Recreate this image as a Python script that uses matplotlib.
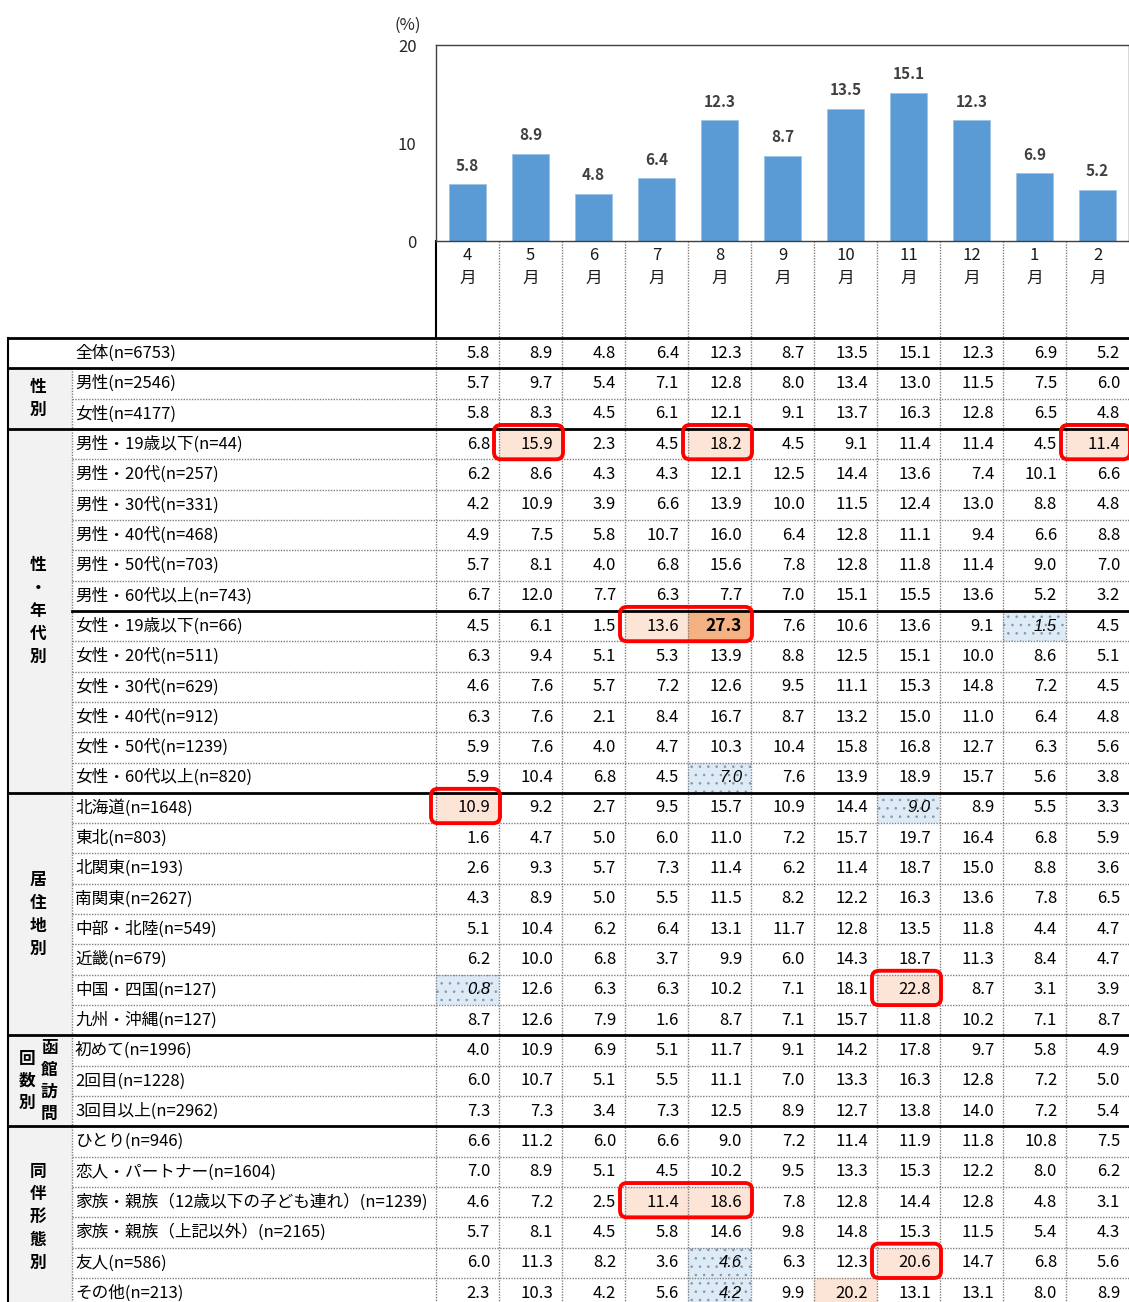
import matplotlib
matplotlib.use("Agg")
import matplotlib.pyplot as plt
from matplotlib.patches import Rectangle, FancyBboxPatch

plt.rcParams['font.family'] = ['Noto Sans CJK JP', 'DejaVu Sans']
plt.rcParams['hatch.linewidth'] = 0.6

# ---------------- data ----------------
months = ["4", "5", "6", "7", "8", "9", "10", "11", "12", "1", "2"]
overall = [5.8, 8.9, 4.8, 6.4, 12.3, 8.7, 13.5, 15.1, 12.3, 6.9, 5.2]

row_labels = [
    "全体(n=6753)",
    "男性(n=2546)", "女性(n=4177)",
    "男性・19歳以下(n=44)", "男性・20代(n=257)", "男性・30代(n=331)",
    "男性・40代(n=468)", "男性・50代(n=703)", "男性・60代以上(n=743)",
    "女性・19歳以下(n=66)", "女性・20代(n=511)", "女性・30代(n=629)",
    "女性・40代(n=912)", "女性・50代(n=1239)", "女性・60代以上(n=820)",
    "北海道(n=1648)", "東北(n=803)", "北関東(n=193)", "南関東(n=2627)",
    "中部・北陸(n=549)", "近畿(n=679)", "中国・四国(n=127)", "九州・沖縄(n=127)",
    "初めて(n=1996)", "2回目(n=1228)", "3回目以上(n=2962)",
    "ひとり(n=946)", "恋人・パートナー(n=1604)",
    "家族・親族（12歳以下の子ども連れ）(n=1239)", "家族・親族（上記以外）(n=2165)",
    "友人(n=586)", "その他(n=213)",
]

values = [
    [5.8, 8.9, 4.8, 6.4, 12.3, 8.7, 13.5, 15.1, 12.3, 6.9, 5.2],
    [5.7, 9.7, 5.4, 7.1, 12.8, 8.0, 13.4, 13.0, 11.5, 7.5, 6.0],
    [5.8, 8.3, 4.5, 6.1, 12.1, 9.1, 13.7, 16.3, 12.8, 6.5, 4.8],
    [6.8, 15.9, 2.3, 4.5, 18.2, 4.5, 9.1, 11.4, 11.4, 4.5, 11.4],
    [6.2, 8.6, 4.3, 4.3, 12.1, 12.5, 14.4, 13.6, 7.4, 10.1, 6.6],
    [4.2, 10.9, 3.9, 6.6, 13.9, 10.0, 11.5, 12.4, 13.0, 8.8, 4.8],
    [4.9, 7.5, 5.8, 10.7, 16.0, 6.4, 12.8, 11.1, 9.4, 6.6, 8.8],
    [5.7, 8.1, 4.0, 6.8, 15.6, 7.8, 12.8, 11.8, 11.4, 9.0, 7.0],
    [6.7, 12.0, 7.7, 6.3, 7.7, 7.0, 15.1, 15.5, 13.6, 5.2, 3.2],
    [4.5, 6.1, 1.5, 13.6, 27.3, 7.6, 10.6, 13.6, 9.1, 1.5, 4.5],
    [6.3, 9.4, 5.1, 5.3, 13.9, 8.8, 12.5, 15.1, 10.0, 8.6, 5.1],
    [4.6, 7.6, 5.7, 7.2, 12.6, 9.5, 11.1, 15.3, 14.8, 7.2, 4.5],
    [6.3, 7.6, 2.1, 8.4, 16.7, 8.7, 13.2, 15.0, 11.0, 6.4, 4.8],
    [5.9, 7.6, 4.0, 4.7, 10.3, 10.4, 15.8, 16.8, 12.7, 6.3, 5.6],
    [5.9, 10.4, 6.8, 4.5, 7.0, 7.6, 13.9, 18.9, 15.7, 5.6, 3.8],
    [10.9, 9.2, 2.7, 9.5, 15.7, 10.9, 14.4, 9.0, 8.9, 5.5, 3.3],
    [1.6, 4.7, 5.0, 6.0, 11.0, 7.2, 15.7, 19.7, 16.4, 6.8, 5.9],
    [2.6, 9.3, 5.7, 7.3, 11.4, 6.2, 11.4, 18.7, 15.0, 8.8, 3.6],
    [4.3, 8.9, 5.0, 5.5, 11.5, 8.2, 12.2, 16.3, 13.6, 7.8, 6.5],
    [5.1, 10.4, 6.2, 6.4, 13.1, 11.7, 12.8, 13.5, 11.8, 4.4, 4.7],
    [6.2, 10.0, 6.8, 3.7, 9.9, 6.0, 14.3, 18.7, 11.3, 8.4, 4.7],
    [0.8, 12.6, 6.3, 6.3, 10.2, 7.1, 18.1, 22.8, 8.7, 3.1, 3.9],
    [8.7, 12.6, 7.9, 1.6, 8.7, 7.1, 15.7, 11.8, 10.2, 7.1, 8.7],
    [4.0, 10.9, 6.9, 5.1, 11.7, 9.1, 14.2, 17.8, 9.7, 5.8, 4.9],
    [6.0, 10.7, 5.1, 5.5, 11.1, 7.0, 13.3, 16.3, 12.8, 7.2, 5.0],
    [7.3, 7.3, 3.4, 7.3, 12.5, 8.9, 12.7, 13.8, 14.0, 7.2, 5.4],
    [6.6, 11.2, 6.0, 6.6, 9.0, 7.2, 11.4, 11.9, 11.8, 10.8, 7.5],
    [7.0, 8.9, 5.1, 4.5, 10.2, 9.5, 13.3, 15.3, 12.2, 8.0, 6.2],
    [4.6, 7.2, 2.5, 11.4, 18.6, 7.8, 12.8, 14.4, 12.8, 4.8, 3.1],
    [5.7, 8.1, 4.5, 5.8, 14.6, 9.8, 14.8, 15.3, 11.5, 5.4, 4.3],
    [6.0, 11.3, 8.2, 3.6, 4.6, 6.3, 12.3, 20.6, 14.7, 6.8, 5.6],
    [2.3, 10.3, 4.2, 5.6, 4.2, 9.9, 20.2, 13.1, 13.1, 8.0, 8.9],
]

group_names = ["", "性別", "性・年代別", "居住地別", "函館訪問回数別", "同伴形態別"]
group_sizes = [1, 2, 12, 8, 3, 6]
sub_breaks = [9]

high_cells = [(3, 1), (3, 4), (3, 10), (9, 3), (15, 0), (21, 7), (28, 3), (28, 4), (30, 7), (31, 6)]
peak_cells = [(9, 4)]
low_cells = [(9, 9), (14, 4), (15, 7), (21, 0), (30, 4), (31, 4)]
boxed_spans = [(3, 1, 1), (3, 4, 4), (3, 10, 10), (9, 3, 4), (15, 0, 0), (21, 7, 7), (28, 3, 4), (30, 7, 7)]

# ---------------- layout ----------------
W, H = 1129, 1302
X_LEFT, X_GRP, X_TAB = 8, 72, 436
NCOL = len(months)
CW = (W - X_TAB) / NCOL
Y_HEAD, Y0 = 241, 338
RH = (1293 - 353) / 31
Y_TOPAX = 45

fig = plt.figure(figsize=(W / 100, H / 100), dpi=100)
tx = fig.add_axes([0, 0, 1, 1])
tx.set_xlim(0, W)
tx.set_ylim(H, 0)
tx.axis('off')

DOT = dict(color='#7f7f7f', lw=1.0, linestyle=(0, (1, 1)))
SOLID = dict(color='black', lw=2.0)

def col_x(j):
    return X_TAB + j * CW

def row_y(i):
    return Y0 + i * RH

nrows = len(row_labels)
tx.add_patch(Rectangle((X_LEFT, row_y(1)), X_GRP - X_LEFT, H - row_y(1),
                       facecolor='#f2f2f2', edgecolor='none', zorder=0))

for (i, j) in high_cells:
    tx.add_patch(Rectangle((col_x(j), row_y(i)), CW, RH, facecolor='#fce4d6',
                           edgecolor='none', zorder=1))
for (i, j) in peak_cells:
    tx.add_patch(Rectangle((col_x(j), row_y(i)), CW, RH, facecolor='#f4b183',
                           edgecolor='none', zorder=1))
for (i, j) in low_cells:
    tx.add_patch(Rectangle((col_x(j), row_y(i)), CW, RH, facecolor='#ddebf7',
                           edgecolor='#8a96a8', lw=0, hatch='..', zorder=1))

group_starts = []
acc = 0
for s in group_sizes:
    group_starts.append(acc)
    acc += s
for r in range(nrows + 1):
    y = row_y(r)
    if r in group_starts or r == nrows:
        tx.plot([X_LEFT, W], [y, y], zorder=3, **SOLID)
    elif r in sub_breaks:
        tx.plot([X_GRP, W], [y, y], zorder=3, **SOLID)
    else:
        tx.plot([X_GRP, W], [y, y], zorder=2, **DOT)

tx.plot([X_LEFT, X_LEFT], [Y0, H], color='black', lw=1.5, zorder=3)
tx.plot([X_GRP, X_GRP], [row_y(1), H], zorder=2, **DOT)
tx.plot([X_TAB, X_TAB], [Y_HEAD, Y0], color='black', lw=1.5, zorder=3)
tx.plot([X_TAB, X_TAB], [Y0, H], zorder=2, **DOT)
for j in range(1, NCOL):
    tx.plot([col_x(j), col_x(j)], [Y_HEAD, H], zorder=2, **DOT)

for j, m in enumerate(months):
    cx = col_x(j) + CW / 2
    tx.text(cx, 256, m, ha='center', va='center', fontsize=12, color='#1a1a1a')
    tx.text(cx, 278, "月", ha='center', va='center', fontsize=12, color='#1a1a1a')

for i, lab in enumerate(row_labels):
    yc = row_y(i) + RH / 2
    tx.text(75, yc, lab, ha='left', va='center', fontsize=12, color='black', zorder=4)
    for j, v in enumerate(values[i]):
        xr = col_x(j + 1) - 9
        if (i, j) in low_cells:
            tx.text(xr, yc, f"{v:.1f}", ha='right', va='center', fontsize=12,
                    family=['Liberation Sans', 'DejaVu Sans'], fontstyle='italic',
                    color='black', zorder=4)
        elif (i, j) in peak_cells:
            tx.text(xr, yc, f"{v:.1f}", ha='right', va='center', fontsize=12.5,
                    fontweight='bold', color='black', zorder=4)
        else:
            tx.text(xr, yc, f"{v:.1f}", ha='right', va='center', fontsize=12,
                    color='black', zorder=4)

for g, (name, s) in enumerate(zip(group_names, group_sizes)):
    if not name:
        continue
    yc = (row_y(group_starts[g]) + row_y(group_starts[g] + s)) / 2
    if name == "函館訪問回数別":
        tx.text(49, yc, "\n".join("函館訪問"), ha='center', va='center', fontsize=12,
                fontweight='bold', linespacing=1.3, zorder=4)
        tx.text(27, yc, "\n".join("回数別"), ha='center', va='center', fontsize=12,
                fontweight='bold', linespacing=1.3, zorder=4)
    else:
        tx.text(38, yc, "\n".join(name), ha='center', va='center', fontsize=12,
                fontweight='bold', linespacing=1.35, zorder=4)

for (i, j0, j1) in boxed_spans:
    x0 = col_x(j0) - 5
    x1 = col_x(j1 + 1) + 1
    y0 = row_y(i) - 4
    y1 = row_y(i + 1)
    tx.add_patch(FancyBboxPatch((x0, y0), x1 - x0, y1 - y0,
                                boxstyle="round,pad=0,rounding_size=7",
                                facecolor='none', edgecolor='#ff0000', lw=2.8, zorder=5))

# ---------------- bar chart ----------------
ax = fig.add_axes([X_TAB / W, 1 - Y_HEAD / H, (W - X_TAB) / W, (Y_HEAD - Y_TOPAX) / H])
x = list(range(NCOL))
ax.bar(x, overall, width=0.58, color='#5b9bd5', edgecolor='#9dc3e6', linewidth=0.6)
for xi, v in zip(x, overall):
    ax.text(xi, v + 1.9, f"{v:.1f}", ha='center', va='center', fontsize=11,
            fontweight='bold', color='#404040')
ax.set_xlim(-0.5, NCOL - 0.5)
ax.set_ylim(0, 20)
ax.set_yticks([0, 10, 20])
ax.set_yticklabels(["0", "10", "20"], fontsize=12, color='#262626')
ax.tick_params(axis='y', length=0, pad=14)
ax.set_xticks([])
for sp in ax.spines.values():
    sp.set_color('#404040')
    sp.set_linewidth(1.0)
ax.patch.set_alpha(0)
fig.text(408 / W, 1 - 25 / H, "(%)", ha='center', va='center', fontsize=12, color='#262626')

fig.savefig("out.png", dpi=100)
